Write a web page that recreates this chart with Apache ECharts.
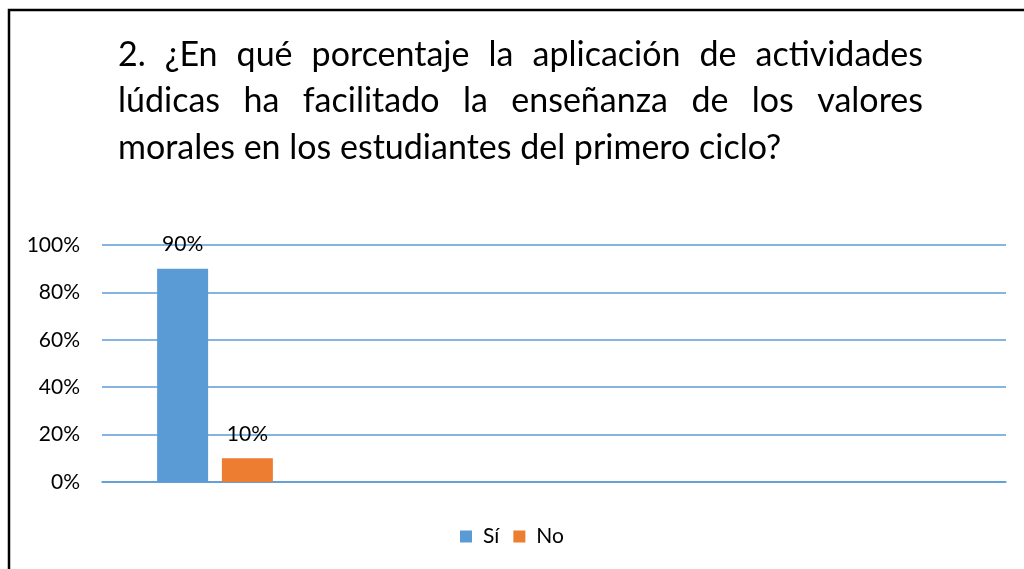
<!DOCTYPE html>
<html>
<head>
<meta charset="utf-8">
<script src="https://cdn.jsdelivr.net/npm/echarts@6/dist/echarts.min.js"></script>
<style>
  html, body { margin: 0; padding: 0; background: #fff; }
  #chart { width: 1024px; height: 569px; }
</style>
</head>
<body>
<div id="chart"></div>
<script>
// datos
const categories = ['', '', '', ''];
const seriesNames = ['Sí', 'No'];
const siValues = [90, '-', '-', '-'];
const noValues = [10, '-', '-', '-'];
const yTicks = [0, 20, 40, 60, 80, 100];

const titleLines = [
  '2. ¿En qué porcentaje la aplicación de actividades',
  'lúdicas ha facilitado la enseñanza de los valores',
  'morales en los estudiantes del primero ciclo?'
];

const font = 'Lato, "Open Sans", sans-serif';
const titleSize = 34;

// titulo justificado (como en el original): cada palabra como texto
let ctx = document.createElement('canvas').getContext('2d');
ctx.font = titleSize + 'px ' + font;
let titleGraphics = [];
titleLines.forEach((line, i) => {
  let words = line.split(' ');
  let top = 38 + i * 46.5;
  let left = 118, right = 923;
  let justify = i < titleLines.length - 1;
  let widths = words.map(w => ctx.measureText(w).width);
  let total = widths.reduce((a, b) => a + b, 0);
  let gap = justify ? (right - left - total) / (words.length - 1) : ctx.measureText(' ').width;
  let x = left;
  words.forEach((w, k) => {
    titleGraphics.push({
      type: 'text',
      x: x,
      y: top,
      silent: true,
      style: {text: w, fontFamily: font, fontSize: titleSize, fill: '#000', verticalAlign: 'top', align: 'left'}
    });
    x += widths[k] + gap;
  });
});

let chartDom = document.getElementById('chart');
let myChart = echarts.init(chartDom);

let option = {
  backgroundColor: '#fff',
  animation: false,
  graphic: [
    {
      type: 'rect',
      shape: {x: 9, y: 10, width: 1100, height: 700},
      style: {fill: 'none', stroke: '#000', lineWidth: 2.5},
      silent: true
    }
  ].concat(titleGraphics),
  legend: {
    bottom: 17,
    left: 'center',
    itemWidth: 12,
    itemHeight: 12,
    itemGap: 14,
    icon: 'rect',
    textStyle: {fontFamily: font, fontSize: 21, color: '#000', padding: [0, 0, 0, 6]},
    data: seriesNames
  },
  grid: {left: 102, right: 18, top: 245, bottom: 87},
  xAxis: {
    type: 'category',
    data: categories,
    axisLine: {show: true, lineStyle: {color: '#5b9bd5', width: 1.5}},
    axisTick: {show: false},
    axisLabel: {show: false}
  },
  yAxis: {
    type: 'value',
    min: yTicks[0],
    max: yTicks[yTicks.length - 1],
    interval: 20,
    axisLine: {show: false},
    axisTick: {show: false},
    axisLabel: {
      formatter: '{value}%',
      fontFamily: font,
      fontSize: 21,
      color: '#000',
      margin: 22
    },
    splitLine: {lineStyle: {color: '#5b9bd5', width: 1.5}}
  },
  series: [
    {
      name: seriesNames[0],
      type: 'bar',
      data: siValues,
      barWidth: 51,
      barGap: '27%',
      itemStyle: {color: '#5b9bd5'},
      label: {show: true, position: 'top', distance: 14, formatter: '{c}%',
        fontFamily: font, fontSize: 21, color: '#000'}
    },
    {
      name: seriesNames[1],
      type: 'bar',
      data: noValues,
      barWidth: 51,
      itemStyle: {color: '#ed7d31'},
      label: {show: true, position: 'top', distance: 14, formatter: '{c}%',
        fontFamily: font, fontSize: 21, color: '#000'}
    }
  ]
};

myChart.setOption(option);
</script>
</body>
</html>
